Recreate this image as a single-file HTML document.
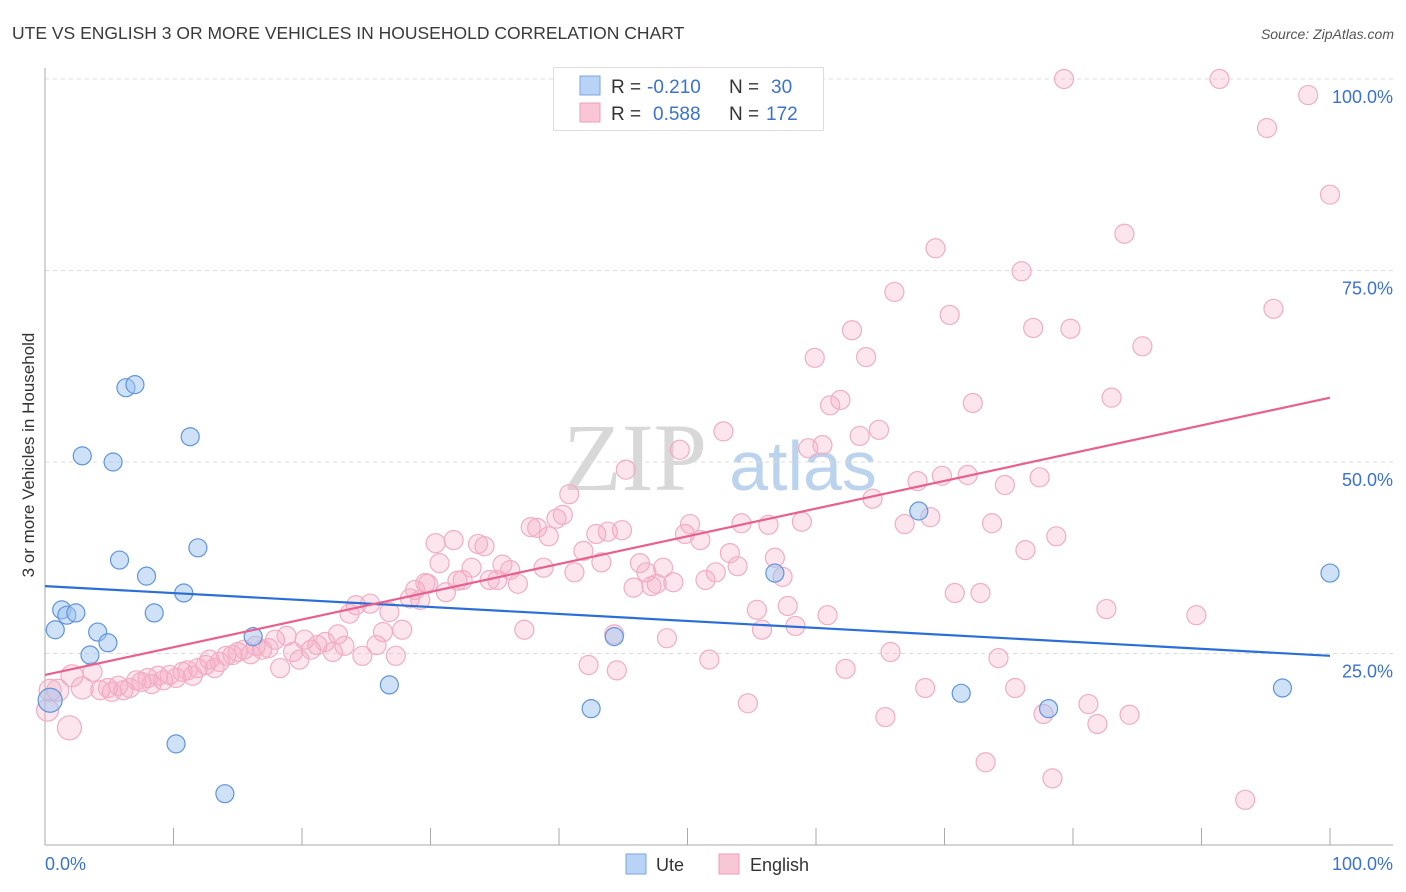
<!DOCTYPE html>
<html><head><meta charset="utf-8"><style>
body{margin:0;background:#fff;font-family:"Liberation Sans",sans-serif}
svg{display:block}
</style></head><body>
<svg id="chart" width="1406" height="892" xmlns="http://www.w3.org/2000/svg" font-family="Liberation Sans, sans-serif">
<text x="12" y="39" font-size="17.5" fill="#3a3a3a">UTE VS ENGLISH 3 OR MORE VEHICLES IN HOUSEHOLD CORRELATION CHART</text>
<text x="1394" y="39" font-size="14" fill="#555" font-style="italic" text-anchor="end">Source: ZipAtlas.com</text>
<g>
<text x="635" y="490" font-size="96" font-family="Liberation Serif, serif" fill="#d8d8d8" text-anchor="middle">ZIP</text>
<text x="803" y="490" font-size="70" fill="#bcd3ee" text-anchor="middle">atlas</text>
</g>
<g id="grid"></g>
<g id="axes"></g>
<g id="points"></g>
<g id="lines"></g>
<text transform="translate(34,455) rotate(-90)" font-size="17" fill="#333" text-anchor="middle">3 or more Vehicles in Household</text>
<g>
<rect x="553.5" y="67.5" width="270" height="63" fill="#fff" stroke="#ddd"/>
<rect x="580" y="76" width="20" height="19" fill="#b8d3f6" stroke="#7aa6e4"/>
<rect x="580" y="103" width="20" height="19" fill="#f9c6d6" stroke="#ef9fb9"/>
<text x="611" y="93" font-size="19" fill="#333">R =</text>
<text x="647" y="93" font-size="19" fill="#3a72d0">-0.210</text>
<text x="729" y="93" font-size="19" fill="#333">N =</text>
<text x="771" y="93" font-size="19" fill="#3a72d0">30</text>
<text x="611" y="120" font-size="19" fill="#333">R =</text>
<text x="653" y="120" font-size="19" fill="#3a72d0">0.588</text>
<text x="729" y="120" font-size="19" fill="#333">N =</text>
<text x="766" y="120" font-size="19" fill="#3a72d0">172</text>
</g>
<g>
<rect x="626" y="854" width="20" height="20" fill="#b8d3f6" stroke="#7aa6e4"/>
<text x="656" y="871" font-size="18" fill="#333">Ute</text>
<rect x="719" y="854" width="20" height="20" fill="#f9c6d6" stroke="#ef9fb9"/>
<text x="750" y="871" font-size="18" fill="#333">English</text>
</g>
</svg>
<script>
const uteX=[0.4,0.8,1.3,1.7,2.4,2.9,3.5,4.1,4.9,5.3,5.8,6.3,7.0,7.9,8.5,10.2,10.8,11.3,11.9,14.0,16.2,26.8,42.5,44.3,56.8,68.0,71.3,78.1,96.3,100];
const uteY=[18.9,28.1,30.7,30.0,30.3,50.8,24.8,27.8,26.4,50.0,37.2,59.7,60.1,35.1,30.3,13.2,32.9,53.3,38.8,6.7,27.2,20.9,17.8,27.2,35.5,43.6,19.8,17.8,20.5,35.5];
const engX=[0.2,0.4,1.0,1.9,2.1,2.9,3.7,4.3,4.9,5.2,5.7,6.1,6.6,7.1,7.5,8.0,8.3,8.8,9.2,9.7,10.2,10.7,11.1,11.5,11.9,12.5,12.8,13.2,13.6,14.1,14.6,15.0,15.5,16.0,16.4,16.9,17.4,17.9,18.3,18.8,19.3,19.8,20.2,20.7,21.2,21.8,22.4,22.8,23.3,23.7,24.2,24.7,25.3,25.8,26.3,26.8,27.3,27.8,28.4,28.8,29.2,29.6,29.8,30.4,30.7,31.2,31.8,32.1,32.5,33.2,33.7,34.2,34.6,35.2,35.6,36.2,36.8,37.3,37.8,38.3,38.8,39.2,39.8,40.3,40.8,41.2,41.9,42.3,42.9,43.3,43.8,44.3,44.5,44.9,45.2,45.8,46.3,46.8,47.2,47.6,48.1,48.4,48.9,49.4,49.8,50.2,51.0,51.4,51.7,52.2,52.8,53.3,53.9,54.2,54.7,55.4,55.8,56.3,56.8,57.4,57.8,58.4,58.9,59.4,59.9,60.5,60.9,61.1,61.9,62.3,62.8,63.4,63.9,64.4,64.9,65.4,65.8,66.1,66.9,67.9,68.5,68.9,69.3,69.8,70.4,70.8,71.8,72.2,72.8,73.2,73.7,74.2,74.7,75.5,76.0,76.3,76.9,77.4,77.7,78.4,78.7,79.3,79.8,81.2,81.9,82.6,83.0,84.0,84.4,85.4,89.6,91.4,93.4,95.1,95.6,98.3,100];
const engY=[17.6,20.2,20.2,15.3,22.1,20.5,22.6,20.2,20.5,20.0,20.8,20.2,20.5,21.5,21.3,21.8,21.0,22.1,21.5,22.2,21.8,22.6,22.8,22.1,23.1,23.5,24.2,23.1,23.9,24.7,24.8,25.2,25.5,24.9,26.0,25.5,25.7,26.8,23.1,27.3,25.2,24.2,26.8,25.5,26.1,26.5,25.2,27.5,26.0,30.2,31.3,24.7,31.5,26.1,27.8,30.4,24.7,28.1,32.2,33.3,32.0,34.2,34.1,39.4,36.8,33.0,39.8,34.5,34.6,36.2,39.3,39.0,34.6,34.6,36.6,35.9,34.1,28.1,41.5,41.4,36.2,40.3,42.6,43.1,45.8,35.6,38.4,23.5,40.6,36.9,40.9,27.5,22.8,41.1,49.0,33.6,36.8,35.6,33.8,34.1,36.2,27.0,34.3,51.6,40.6,41.9,39.8,34.6,24.2,35.6,54.0,38.1,36.4,42.0,18.5,30.7,28.1,41.8,37.5,35.0,31.2,28.6,42.2,51.8,63.6,52.2,30.0,57.4,58.1,23.0,67.2,53.4,63.7,45.2,54.2,16.7,25.2,72.2,41.9,47.5,20.5,42.8,77.9,48.2,69.2,32.9,48.3,57.7,32.9,10.8,42.0,24.4,47.0,20.5,74.9,38.5,67.5,48.0,17.1,8.7,40.3,100,67.4,18.4,15.8,30.8,58.4,79.8,17.0,65.1,30.0,100,5.9,93.6,70.0,97.9,84.9];
const uteTrend=[33.8,24.7];
const engTrend=[22.2,58.4];
const yTicks=[25,50,75,100];
const yTickLabels=["25.0%","50.0%","75.0%","100.0%"];
const xTicks=[0,10,20,30,40,50,60,70,80,90,100];

const NS="http://www.w3.org/2000/svg";
const X0=45,X1=1330,Y0=845,Y100=79;
function sx(v){return X0+(X1-X0)*v/100;}
function sy(v){return Y0-(Y0-Y100)*v/100;}
function mk(tag,attrs,parent){const e=document.createElementNS(NS,tag);for(const k in attrs)e.setAttribute(k,attrs[k]);parent.appendChild(e);return e;}
const grid=document.getElementById('grid'),axes=document.getElementById('axes'),pts=document.getElementById('points'),lines=document.getElementById('lines');
yTicks.forEach((t,i)=>{
  const l=mk('line',{x1:X0,x2:1393,y1:sy(t),y2:sy(t),stroke:'#ddd','stroke-dasharray':'4,4'},grid);
  
  
  const tx=mk('text',{x:1393,y:sy(t)+24,'font-size':18,fill:'#3a72d0','text-anchor':'end'},grid);
  tx.textContent=yTickLabels[i];
  
  
});
let a=mk('line',{x1:X0,x2:X0,y1:68,y2:Y0,stroke:'#aaa'},axes);


a=mk('line',{x1:X0,x2:1393,y1:Y0,y2:Y0,stroke:'#aaa'},axes);


xTicks.forEach(t=>{
  const l=mk('line',{x1:sx(t),x2:sx(t),y1:828,y2:Y0,stroke:'#aaa'},axes);
  
  
});
let xl=mk('text',{x:X0,y:870,'font-size':18,fill:'#3a72d0'},axes);xl.textContent='0.0%';


xl=mk('text',{x:1393,y:870,'font-size':18,fill:'#3a72d0','text-anchor':'end'},axes);xl.textContent='100.0%';


engX.forEach((x,i)=>{
  const r=i<6?(i===3?12:11):9.5;
  const c=mk('circle',{cx:sx(x),cy:sy(engY[i]),r:r,fill:'rgba(246,170,196,0.3)',stroke:'#f2adc3','stroke-width':1.2},pts);
  
  
});
uteX.forEach((x,i)=>{
  const r=i===0?12:9;
  const c=mk('circle',{cx:sx(x),cy:sy(uteY[i]),r:r,fill:'rgba(160,196,240,0.5)',stroke:'#5f95dd','stroke-width':1.2},pts);
  
  
});
let tl=mk('line',{x1:sx(0),x2:sx(100),y1:sy(uteTrend[0]),y2:sy(uteTrend[1]),stroke:'#2b6fd6','stroke-width':2.2},lines);


tl=mk('line',{x1:sx(0),x2:sx(100),y1:sy(engTrend[0]),y2:sy(engTrend[1]),stroke:'#e8608e','stroke-width':2.2},lines);


</script>
</body></html>
